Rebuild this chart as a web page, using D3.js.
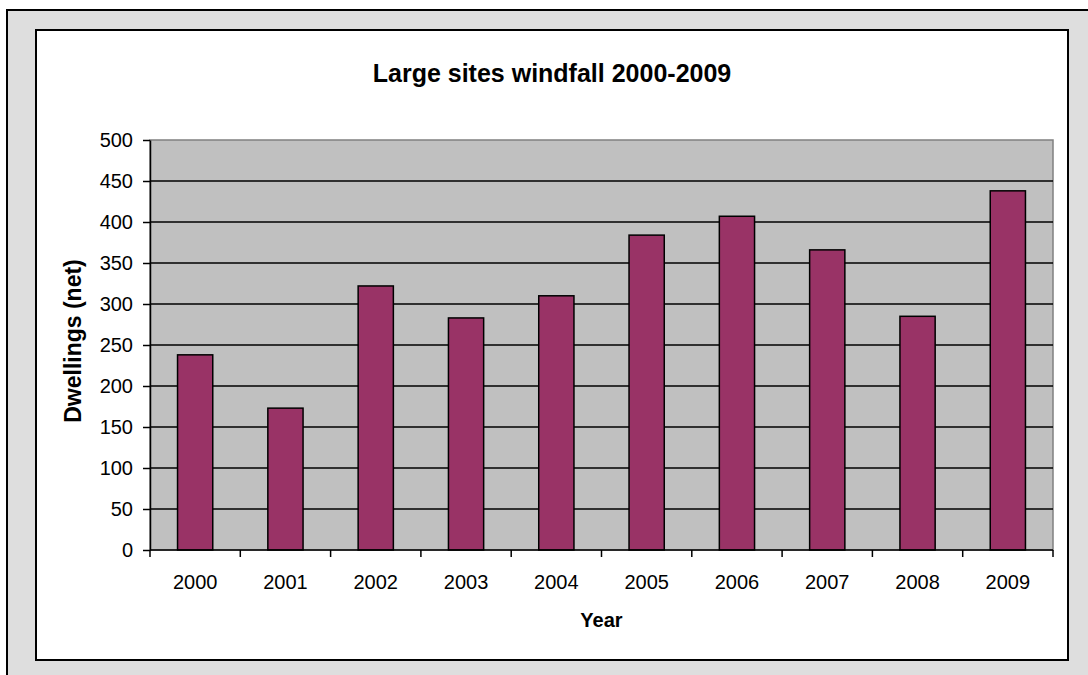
<!DOCTYPE html>
<html>
<head>
<meta charset="utf-8">
<script src="https://cdn.jsdelivr.net/npm/d3@7"></script>
<style>
  body { margin: 0; background: #fff; }
  text { font-family: Arial, "Liberation Sans", sans-serif; fill: #000; }
</style>
</head>
<body>
<div id="chart"></div>
<script>
// data
const years = ['2000', '2001', '2002', '2003', '2004', '2005', '2006', '2007', '2008', '2009'];
const dwellings = [238, 173, 322, 283, 310, 384, 407, 366, 285, 438];
const yTicks = [0, 50, 100, 150, 200, 250, 300, 350, 400, 450, 500];

const W = 1088, H = 675;
const plot = {left: 150, top: 140, right: 1053, bottom: 550};

const svg = d3.select('#chart').append('svg')
    .attr('width', W)
    .attr('height', H);

// outer frame + chart box
svg.append('rect').attr('x', 7).attr('y', 10).attr('width', W + 20).attr('height', H + 20)
    .attr('fill', '#dedede').attr('stroke', '#000').attr('stroke-width', 2);
svg.append('rect').attr('x', 36).attr('y', 30).attr('width', 1032).attr('height', 630)
    .attr('fill', '#fff').attr('stroke', '#000').attr('stroke-width', 2);

const x = d3.scaleBand().domain(years).range([plot.left, plot.right]).paddingInner(0.61).paddingOuter(0.305);
const xEdges = d3.scaleLinear().domain([0, years.length]).range([plot.left, plot.right]);
const y = d3.scaleLinear().domain([0, 500]).range([plot.bottom, plot.top]);

// plot area background
svg.append('rect')
    .attr('x', plot.left).attr('y', plot.top)
    .attr('width', plot.right - plot.left).attr('height', plot.bottom - plot.top)
    .attr('fill', '#c0c0c0').attr('stroke', '#808080').attr('stroke-width', 1.5);

// gridlines
svg.append('g').selectAll('line')
    .data(yTicks.filter(d => d > 0 && d < 500))
    .join('line')
    .attr('x1', plot.left).attr('x2', plot.right)
    .attr('y1', d => y(d)).attr('y2', d => y(d))
    .attr('stroke', '#000').attr('stroke-width', 1.5);

// bars
svg.append('g').selectAll('rect')
    .data(years)
    .join('rect')
    .attr('x', d => x(d))
    .attr('y', (d, i) => y(dwellings[i]))
    .attr('width', x.bandwidth())
    .attr('height', (d, i) => y(0) - y(dwellings[i]))
    .attr('fill', '#993366')
    .attr('stroke', '#000')
    .attr('stroke-width', 1.5);

// y axis
const yAxis = d3.axisLeft(y).tickValues(yTicks).tickSize(7).tickPadding(10).tickSizeOuter(0);
const yAxisG = svg.append('g').attr('transform', `translate(${plot.left},0)`).call(yAxis);
yAxisG.select('.domain').attr('stroke', '#000').attr('stroke-width', 1.5);
yAxisG.selectAll('.tick line').attr('stroke', '#000').attr('stroke-width', 1.5);
yAxisG.selectAll('.tick text').style('font-size', '20px').style('font-family', 'Arial, "Liberation Sans", sans-serif');

// x axis: ticks on category boundaries, labels centered in bands
const xAxisG = svg.append('g').attr('transform', `translate(0,${plot.bottom})`);
xAxisG.append('line').attr('x1', plot.left).attr('x2', plot.right)
    .attr('stroke', '#000').attr('stroke-width', 1.5);
xAxisG.selectAll('.xtick')
    .data(d3.range(years.length + 1))
    .join('line')
    .attr('class', 'xtick')
    .attr('x1', d => xEdges(d)).attr('x2', d => xEdges(d))
    .attr('y1', 0).attr('y2', 7)
    .attr('stroke', '#000').attr('stroke-width', 1.5);
xAxisG.selectAll('.xlabel')
    .data(years)
    .join('text')
    .attr('class', 'xlabel')
    .attr('x', d => x(d) + x.bandwidth() / 2)
    .attr('y', 39)
    .attr('text-anchor', 'middle')
    .style('font-size', '20px')
    .text(d => d);

// titles
svg.append('text')
    .attr('x', 552).attr('y', 82)
    .attr('text-anchor', 'middle')
    .style('font-size', '25px').style('font-weight', 'bold')
    .text('Large sites windfall 2000-2009');

svg.append('text')
    .attr('x', (plot.left + plot.right) / 2).attr('y', 627)
    .attr('text-anchor', 'middle')
    .style('font-size', '20px').style('font-weight', 'bold')
    .text('Year');

svg.append('text')
    .attr('transform', `translate(81,341) rotate(-90)`)
    .attr('text-anchor', 'middle')
    .style('font-size', '23px').style('font-weight', 'bold')
    .text('Dwellings (net)');
</script>
</body>
</html>
